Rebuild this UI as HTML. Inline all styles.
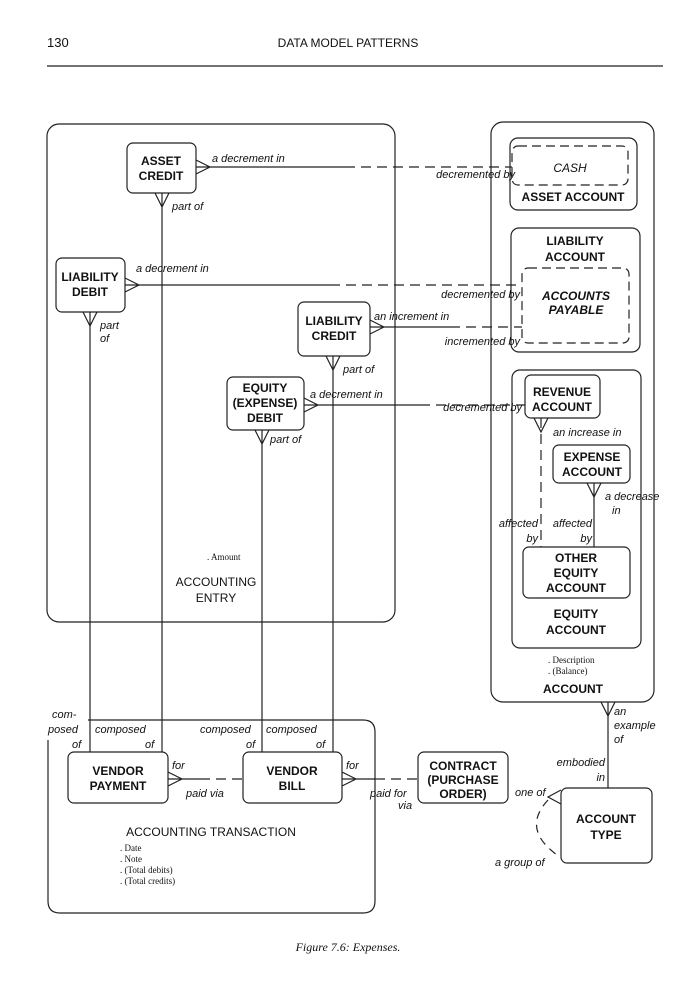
<!DOCTYPE html>
<html><head><meta charset="utf-8"><style>
body{margin:0;background:#fff}
svg{display:block}
text{font-family:"Liberation Sans",sans-serif;fill:#111}
.b{font-weight:bold;font-size:12px;text-anchor:middle}
.i{font-style:italic;font-size:11px}
.s{font-family:"Liberation Serif",serif;font-size:9px}
</style></head><body>
<svg width="691" height="989" viewBox="0 0 691 989" xmlns="http://www.w3.org/2000/svg" fill="none" stroke="#222" stroke-width="1.2">
<text x="47" y="47" style="font-size:13px" stroke="none">130</text>
<text x="348" y="47" style="font-size:12px;text-anchor:middle" stroke="none">DATA MODEL PATTERNS</text>
<line x1="47" y1="66" x2="663" y2="66"/>

<!-- accounting entry -->
<rect x="47" y="124" width="348" height="498" rx="12"/>
<!-- account -->
<rect x="491" y="122" width="163" height="580" rx="12"/>
<rect x="510" y="138" width="127" height="72" rx="8"/>
<rect x="512" y="146" width="116" height="39" rx="6" stroke-dasharray="9,5"/>
<rect x="511" y="228" width="129" height="124" rx="8"/>
<rect x="522" y="268" width="107" height="75" rx="6" stroke-dasharray="9,5"/>
<rect x="512" y="370" width="129" height="278" rx="8"/>
<rect x="525" y="375" width="75" height="43" rx="6"/>
<rect x="553" y="445" width="77" height="38" rx="6"/>
<rect x="523" y="547" width="107" height="51" rx="6"/>

<!-- entity boxes left -->
<rect x="127" y="143" width="69" height="50" rx="6"/>
<rect x="56" y="258" width="69" height="54" rx="6"/>
<rect x="298" y="302" width="72" height="54" rx="6"/>
<rect x="227" y="377" width="77" height="53" rx="6"/>

<!-- horizontal relationships -->
<path d="M196 160 L210 167 L196 174 M196 167 H345"/><path d="M345 167 H512" stroke-dasharray="10,6"/>
<path d="M125 278 L139 285 L125 292 M125 285 H330"/><path d="M330 285 H522" stroke-dasharray="10,6"/>
<path d="M370 320 L384 327 L370 334 M370 327 H450"/><path d="M450 327 H522" stroke-dasharray="10,6"/>
<path d="M304 398 L318 405 L304 412 M304 405 H420"/><path d="M420 405 H525" stroke-dasharray="10,6"/>

<!-- verticals -->
<path d="M155 193 L162 207 L169 193 M162 193 V752"/>
<path d="M83 312 L90 326 L97 312 M90 312 V752"/>
<path d="M326 356 L333 370 L340 356 M333 356 V752"/>
<path d="M255 430 L262 444 L269 430 M262 430 V752"/>

<!-- equity internal -->
<path d="M534 418 L541 432 L548 418"/><path d="M541 418 V547" stroke-dasharray="10,6"/>
<path d="M587 483 L594 497 L601 483 M594 483 V547"/>

<!-- account to type -->
<path d="M601 702 L608 716 L615 702 M608 702 V788"/>
<rect x="561" y="788" width="91" height="75" rx="6"/>
<path d="M561 790 L548 797 L561 804"/>
<path d="M548 800 Q520 830 560 857" stroke-dasharray="8,6"/>

<!-- accounting transaction -->
<path d="M88 720 H363 Q375 720 375 732 V901 Q375 913 363 913 H60 Q48 913 48 901 V740"/>
<rect x="68" y="752" width="100" height="51" rx="6"/>
<rect x="243" y="752" width="99" height="51" rx="6"/>
<rect x="418" y="752" width="90" height="51" rx="6"/>
<path d="M168 772 L182 779 L168 786 M168 779 H200"/><path d="M200 779 H243" stroke-dasharray="10,6"/>
<path d="M342 772 L356 779 L342 786 M342 779 H375"/><path d="M375 779 H418" stroke-dasharray="10,6"/>

<g stroke="none">
<text class="b" x="161" y="165">ASSET</text><text class="b" x="161" y="180">CREDIT</text>
<text class="b" x="90" y="281">LIABILITY</text><text class="b" x="90" y="296">DEBIT</text>
<text class="b" x="334" y="325">LIABILITY</text><text class="b" x="334" y="340">CREDIT</text>
<text class="b" x="265" y="392">EQUITY</text><text class="b" x="265" y="407">(EXPENSE)</text><text class="b" x="265" y="422">DEBIT</text>
<text class="s" x="207" y="560">. Amount</text>
<text class="b" x="216" y="586" style="font-weight:normal">ACCOUNTING</text><text class="b" x="216" y="602" style="font-weight:normal">ENTRY</text>

<text class="i" x="212" y="162">a decrement in</text>
<text class="i" x="172" y="210">part of</text>
<text class="i" x="136" y="272">a decrement in</text>
<text class="i" x="100" y="329">part</text><text class="i" x="100" y="342">of</text>
<text class="i" x="374" y="320">an increment in</text>
<text class="i" x="343" y="373">part of</text>
<text class="i" x="310" y="398">a decrement in</text>
<text class="i" x="270" y="443">part of</text>

<text class="i" x="515" y="178" style="text-anchor:end">decremented by</text>
<text class="i" x="520" y="298" style="text-anchor:end">decremented by</text>
<text class="i" x="520" y="345" style="text-anchor:end">incremented by</text>
<text class="i" x="522" y="411" style="text-anchor:end">decremented by</text>

<text class="b" x="570" y="172" style="font-weight:normal;font-style:italic">CASH</text>
<text class="b" x="573" y="201">ASSET ACCOUNT</text>
<text class="b" x="575" y="245">LIABILITY</text><text class="b" x="575" y="261">ACCOUNT</text>
<text class="b" x="576" y="300" style="font-style:italic">ACCOUNTS</text><text class="b" x="576" y="314" style="font-style:italic">PAYABLE</text>
<text class="b" x="562" y="396">REVENUE</text><text class="b" x="562" y="411">ACCOUNT</text>
<text class="b" x="592" y="461">EXPENSE</text><text class="b" x="592" y="476">ACCOUNT</text>
<text class="b" x="576" y="562">OTHER</text><text class="b" x="576" y="577">EQUITY</text><text class="b" x="576" y="592">ACCOUNT</text>
<text class="b" x="576" y="618">EQUITY</text><text class="b" x="576" y="634">ACCOUNT</text>
<text class="s" x="548" y="663">. Description</text><text class="s" x="548" y="674">. (Balance)</text>
<text class="b" x="573" y="693">ACCOUNT</text>
<text class="i" x="553" y="436">an increase in</text>
<text class="i" x="605" y="500">a decrease</text><text class="i" x="612" y="514">in</text>
<text class="i" x="538" y="527" style="text-anchor:end">affected</text><text class="i" x="538" y="542" style="text-anchor:end">by</text>
<text class="i" x="592" y="527" style="text-anchor:end">affected</text><text class="i" x="592" y="542" style="text-anchor:end">by</text>

<text class="i" x="614" y="715">an</text><text class="i" x="614" y="729">example</text><text class="i" x="614" y="743">of</text>
<text class="i" x="605" y="766" style="text-anchor:end">embodied</text><text class="i" x="605" y="781" style="text-anchor:end">in</text>
<text class="b" x="606" y="823">ACCOUNT</text><text class="b" x="606" y="839">TYPE</text>
<text class="i" x="515" y="796">one of</text>
<text class="i" x="495" y="866">a group of</text>

<text class="i" x="52" y="718">com-</text><text class="i" x="48" y="733">posed</text><text class="i" x="72" y="748">of</text>
<text class="i" x="95" y="733">composed</text><text class="i" x="145" y="748">of</text>
<text class="i" x="200" y="733">composed</text><text class="i" x="246" y="748">of</text>
<text class="i" x="266" y="733">composed</text><text class="i" x="316" y="748">of</text>
<text class="b" x="118" y="775">VENDOR</text><text class="b" x="118" y="790">PAYMENT</text>
<text class="b" x="292" y="775">VENDOR</text><text class="b" x="292" y="790">BILL</text>
<text class="b" x="463" y="770">CONTRACT</text><text class="b" x="463" y="784">(PURCHASE</text><text class="b" x="463" y="798">ORDER)</text>
<text class="i" x="172" y="769">for</text><text class="i" x="186" y="797">paid via</text>
<text class="i" x="346" y="769">for</text><text class="i" x="370" y="797">paid for</text><text class="i" x="398" y="809">via</text>
<text class="b" x="211" y="836" style="font-weight:normal">ACCOUNTING TRANSACTION</text>
<text class="s" x="120" y="851">. Date</text><text class="s" x="120" y="862">. Note</text>
<text class="s" x="120" y="873">. (Total debits)</text><text class="s" x="120" y="884">. (Total credits)</text>
<text x="348" y="951" style="font-family:'Liberation Serif',serif;font-style:italic;font-size:12px;text-anchor:middle">Figure 7.6:  Expenses.</text>
</g>
</svg>
</body></html>
